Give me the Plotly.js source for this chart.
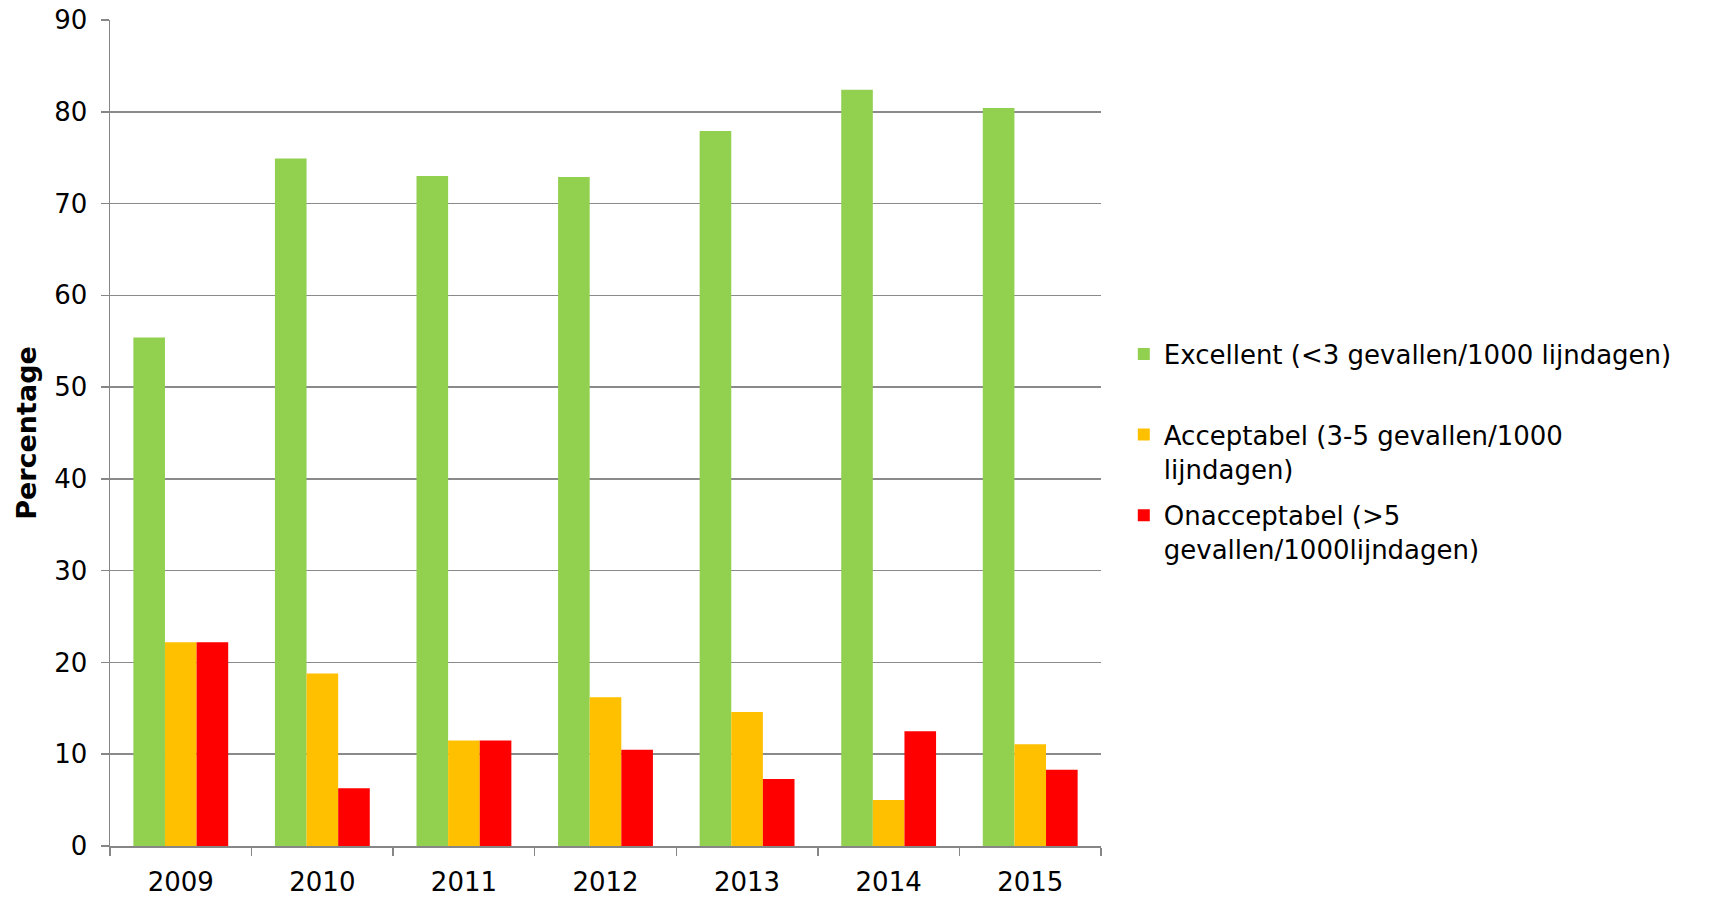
<!DOCTYPE html>
<html>
<head>
<meta charset="utf-8">
<script src="https://cdn.plot.ly/plotly-3.0.1.min.js"></script>
<style>
  html, body { margin: 0; padding: 0; background: #fff; }
  #chart { width: 1709px; height: 900px; }
</style>
</head>
<body>
<div id="chart"></div>
<script>
const years = ['2009', '2010', '2011', '2012', '2013', '2014', '2015'];
const excellent = [55.4, 74.9, 73.0, 72.9, 77.9, 82.4, 80.4];
const acceptabel = [22.2, 18.8, 11.5, 16.2, 14.6, 5.0, 11.1];
const onacceptabel = [22.2, 6.3, 11.5, 10.5, 7.3, 12.5, 8.3];
const seriesNames = [
  'Excellent (&lt;3 gevallen/1000 lijndagen)<br>&nbsp;',
  'Acceptabel (3-5 gevallen/1000<br>lijndagen)',
  'Onacceptabel (&gt;5<br>gevallen/1000lijndagen)'
];
const yTicks = [0, 10, 20, 30, 40, 50, 60, 70, 80, 90];

const colors = ['#92D050', '#FFC000', '#FF0000'];
const values = [excellent, acceptabel, onacceptabel];

const traces = values.map((v, i) => ({
  type: 'bar',
  x: years,
  y: v,
  name: seriesNames[i],
  legendgroup: 'g' + i,
  marker: { color: colors[i], line: { width: 0 } },
  hoverinfo: 'x+y'
}));

const font = { family: 'DejaVu Sans, Verdana, sans-serif', size: 26, color: '#000' };

const layout = {
  width: 1709,
  height: 900,
  paper_bgcolor: '#fff',
  plot_bgcolor: '#fff',
  margin: { l: 110, r: 608, t: 20, b: 54 },
  font: font,
  barmode: 'group',
  bargap: 0.33,
  bargroupgap: 0,
  showlegend: true,
  legend: {
    x: 1.023, xanchor: 'left',
    y: 0.624, yanchor: 'top',
    font: font,
    valign: 'top',
    tracegroupgap: 10,
    itemwidth: 30,
    bgcolor: 'rgba(0,0,0,0)'
  },
  xaxis: {
    type: 'category',
    showline: true,
    linecolor: '#868686',
    linewidth: 1.5,
    ticks: 'outside',
    tickson: 'boundaries',
    ticklen: 8,
    tickcolor: '#868686',
    tickwidth: 1.5,
    ticklabelstandoff: 12,
    showgrid: false,
    tickfont: font,
    zeroline: false
  },
  yaxis: {
    range: [0, 90],
    tickvals: yTicks,
    ticktext: yTicks.map(String),
    showline: true,
    linecolor: '#868686',
    linewidth: 1.5,
    ticks: 'outside',
    ticklen: 8,
    tickcolor: '#868686',
    tickwidth: 1.5,
    ticklabelstandoff: 8,
    showgrid: true,
    gridcolor: '#8a8a8a',
    gridwidth: 1.5,
    zeroline: false,
    tickfont: font,
    title: {
      text: '<b>Percentage</b>',
      font: { family: 'DejaVu Sans, Verdana, sans-serif', size: 27, color: '#000' },
      standoff: 10
    }
  }
};

Plotly.newPlot('chart', traces, layout, { displayModeBar: false, staticPlot: true });
</script>
</body>
</html>
